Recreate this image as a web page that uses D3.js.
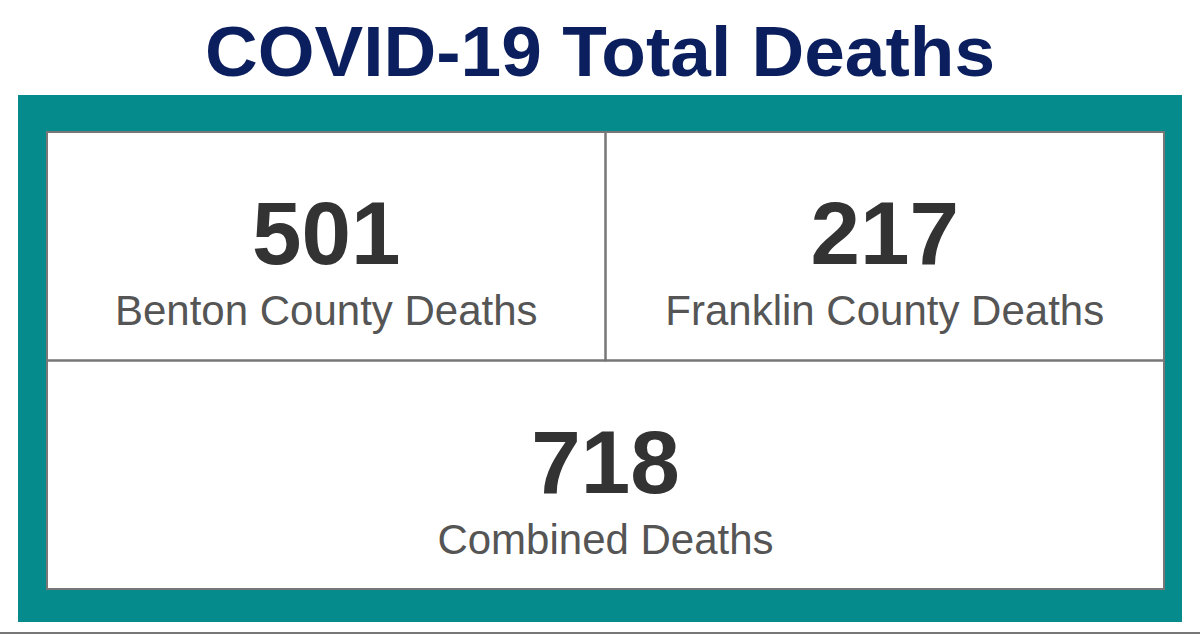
<!DOCTYPE html>
<html>
<head>
<meta charset="utf-8">
<script src="https://cdn.jsdelivr.net/npm/d3@7"></script>
<style>
  body { margin: 0; background: white; }
</style>
</head>
<body>
<svg width="1200" height="636"></svg>
<script>
const svg = d3.select("svg")

const title = "COVID-19 Total Deaths"
const labels = ["Benton County Deaths", "Franklin County Deaths", "Combined Deaths"]
const values = [501, 217, 718]

// cells in unit coords of the white box
const cells = [
  { x0: 0, x1: 0.5, y0: 0, y1: 0.5 },
  { x0: 0.5, x1: 1, y0: 0, y1: 0.5 },
  { x0: 0, x1: 1, y0: 0.5, y1: 1 }
]

const x = d3.scaleLinear().domain([0, 1]).range([47, 1164])
const y = d3.scaleLinear().domain([0, 1]).range([132, 589])

svg.append("text")
  .attr("x", 600).attr("y", 76)
  .attr("text-anchor", "middle")
  .attr("font-family", "Liberation Sans, Arial, sans-serif")
  .attr("font-weight", "bold")
  .attr("font-size", 70)
  .attr("textLength", 790)
  .attr("lengthAdjust", "spacingAndGlyphs")
  .attr("fill", "#0b1f5e")
  .text(title)

svg.append("rect")
  .attr("x", 18).attr("y", 95).attr("width", 1164).attr("height", 527)
  .attr("fill", "#058b8b")

svg.append("rect")
  .attr("x", x(0)).attr("y", y(0)).attr("width", x(1) - x(0)).attr("height", y(1) - y(0))
  .attr("fill", "white").attr("stroke", "#555").attr("stroke-width", 2)

const g = svg.selectAll("g.cell")
  .data(cells.map((c, i) => ({ ...c, label: labels[i], value: values[i] })))
  .join("g")

g.append("rect")
  .attr("x", d => x(d.x0)).attr("y", d => y(d.y0))
  .attr("width", d => x(d.x1) - x(d.x0)).attr("height", d => y(d.y1) - y(d.y0))
  .attr("fill", "none").attr("stroke", "#777").attr("stroke-width", 2)

g.append("text")
  .attr("x", d => (x(d.x0) + x(d.x1)) / 2)
  .attr("y", d => y(d.y0) + 132)
  .attr("text-anchor", "middle")
  .attr("font-family", "Liberation Sans, Arial, sans-serif")
  .attr("font-weight", "bold")
  .attr("font-size", 89)
  .attr("fill", "#333")
  .text(d => d.value)

g.append("text")
  .attr("x", d => (x(d.x0) + x(d.x1)) / 2)
  .attr("y", d => y(d.y0) + 193)
  .attr("text-anchor", "middle")
  .attr("font-family", "Liberation Sans, Arial, sans-serif")
  .attr("font-size", 42)
  .attr("fill", "#555")
  .text(d => d.label)

svg.append("line")
  .attr("x1", 0).attr("x2", 1200).attr("y1", 633).attr("y2", 633)
  .attr("stroke", "#777").attr("stroke-width", 2)
</script>
</body>
</html>
